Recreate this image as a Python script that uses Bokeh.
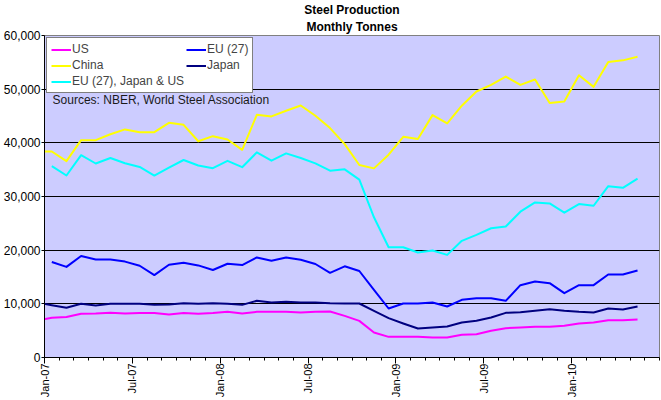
import numpy as np
import pandas as pd
from bokeh.plotting import figure
from bokeh.models import (ColumnDataSource, FixedTicker, Legend, LegendItem,
                          Label, Title, NumeralTickFormatter, Range1d)
from bokeh.embed import file_html
from bokeh.resources import INLINE

# ---------------- data (monthly tonnes) ----------------
months = list(pd.date_range("2006-12-01", periods=42, freq="MS").strftime("%b-%y"))  # Dec-06 .. May-10
nan = float("nan")

us = [6900,
      7400, 7550, 8150, 8200, 8330, 8210, 8270, 8270, 8020, 8270, 8140, 8270,
      8510, 8210, 8510, 8510, 8510, 8390, 8510, 8570, 7760, 6830, 4660, 3850,
      3850, 3850, 3730, 3730, 4220, 4350, 4970, 5470, 5590, 5720, 5720, 5900,
      6340, 6520, 6960, 6960, 7080]
eu27 = [nan,
        17800, 16880, 18920, 18250, 18250, 17870, 17100, 15360, 17280, 17650, 17160, 16300,
        17470, 17220, 18650, 18040, 18650, 18200, 17420, 15780, 16990, 16120, 12610, 9130,
        10060, 10060, 10250, 9500, 10750, 11060, 11060, 10560, 13480, 14160, 13850, 11990,
        13480, 13480, 15460, 15460, 16210]
china = [38400,
         38390, 36580, 40500, 40500, 41600, 42500, 41990, 41990, 43730, 43350, 40300, 41240,
         40620, 38700, 45230, 44920, 45970, 46960, 45040, 42750, 39770, 35860, 35240, 37790,
         41130, 40700, 45160, 43610, 46920, 49570, 50800, 52340, 50800, 51790, 47410, 47720,
         52590, 50430, 55060, 55370, 56050]
japan = [10250,
         9750, 9260, 10000, 9690, 10000, 10000, 10000, 9810, 9870, 10120, 10000, 10120,
         10000, 9810, 10560, 10250, 10370, 10250, 10250, 10120, 10060, 10060, 8700, 7330,
         6340, 5400, 5590, 5780, 6520, 6830, 7450, 8320, 8450, 8700, 9010, 8700,
         8510, 8390, 9130, 8940, 9500]
combined = [nan,
            35650, 33910, 37700, 36150, 37170, 36200, 35500, 33910, 35370, 36800, 35780, 35280,
            36640, 35460, 38220, 36670, 38030, 37170, 36170, 34810, 35060, 33140, 26130, 20550,
            20550, 19560, 19930, 19120, 21740, 22850, 24090, 24400, 27170, 28900, 28710, 26990,
            28590, 28280, 31920, 31610, 33340]

series_names = ["US", "EU (27)", "China", "Japan", "EU (27), Japan & US"]
series_colors = ["#FF00FF", "#0000FF", "#FFFF00", "#000080", "#00FFFF"]
tick_labels = ["Jan-07", "Jul-07", "Jan-08", "Jul-08", "Jan-09", "Jul-09", "Jan-10"]
y_ticks = [0, 10000, 20000, 30000, 40000, 50000, 60000]
n_axis_months = 42  # Jan-07 .. Jun-10 on the category axis

# ---------------- build ----------------
first = months.index("Jan-07")
xpos = np.arange(len(months)) - first + 0.5
src = ColumnDataSource(dict(x=xpos, us=us, eu=eu27, china=china, japan=japan, comb=combined))
cols = ["us", "eu", "china", "japan", "comb"]

FONT = "Liberation Sans"

p = figure(width=661, height=400, x_range=Range1d(0, n_axis_months), y_range=Range1d(y_ticks[0], y_ticks[-1]),
           output_backend="svg", toolbar_location=None, title=None,
           background_fill_color="#CCCCFF", border_fill_color="white",
           min_border_left=10, min_border_right=2, min_border_top=0, min_border_bottom=0,
           outline_line_color="#808080")

p.add_layout(Title(text="Monthly Tonnes", align="center", text_font=FONT, text_font_size="12px",
                   text_font_style="bold", standoff=3, text_color="black"), "above")
p.add_layout(Title(text="Steel Production", align="center", text_font=FONT, text_font_size="12px",
                   text_font_style="bold", standoff=0, text_color="black"), "above")

renderers = {}
for c, name, color in zip(cols, series_names, series_colors):
    renderers[name] = p.line("x", c, source=src, line_color=color, line_width=2, line_join="round")

# axes
tick_pos = [months.index(l) - first for l in tick_labels]
p.xaxis.ticker = FixedTicker(ticks=tick_pos, minor_ticks=list(range(0, n_axis_months + 1)))
p.xaxis.major_label_overrides = {t: l for t, l in zip(tick_pos, tick_labels)}
p.xaxis.major_label_orientation = np.pi / 2
p.xaxis.major_tick_out = 6
p.xaxis.major_tick_in = 0
p.xaxis.minor_tick_out = 3
p.xaxis.minor_tick_in = 0
p.xaxis.major_label_standoff = 0
p.xaxis.major_label_text_font_size = "11px"

p.yaxis.ticker = FixedTicker(ticks=y_ticks)
p.yaxis.formatter = NumeralTickFormatter(format="0,0")
p.yaxis.major_tick_out = 3
p.yaxis.major_tick_in = 0
p.yaxis.minor_tick_out = 0
p.yaxis.minor_tick_in = 0
p.yaxis.major_label_standoff = 1
p.yaxis.major_label_text_font_size = "12px"

for ax in (p.xaxis, p.yaxis):
    ax.axis_label = None
    ax.axis_label_standoff = 0
    ax.axis_line_color = "black"
    ax.major_tick_line_color = "black"
    ax.minor_tick_line_color = "black"
    ax.major_label_text_font = FONT
    ax.major_label_text_color = "black"

p.xgrid.visible = False
p.ygrid.ticker = FixedTicker(ticks=y_ticks[1:-1])
p.ygrid.grid_line_color = "black"
p.ygrid.grid_line_width = 1

# legend (column-major order for 2 columns)
order = ["US", "China", "EU (27), Japan & US", "EU (27)", "Japan"]
legend = Legend(items=[LegendItem(label=n, renderers=[renderers[n]]) for n in order],
                location="top_left", ncols=2, orientation="vertical",
                border_line_color="black", border_line_width=1,
                background_fill_color="white", background_fill_alpha=1,
                label_text_font=FONT, label_text_font_size="12px",
                glyph_width=20, glyph_height=13, label_height=13, label_standoff=1,
                spacing=2, padding=4, margin=2)
p.add_layout(legend)

p.add_layout(Label(x=0.55, y=47900, text="Sources: NBER, World Steel Association",
                   text_font=FONT, text_font_size="12px", text_baseline="middle", text_color="#1a1a1a"))

open("out.html", "w").write(file_html(p, INLINE))
